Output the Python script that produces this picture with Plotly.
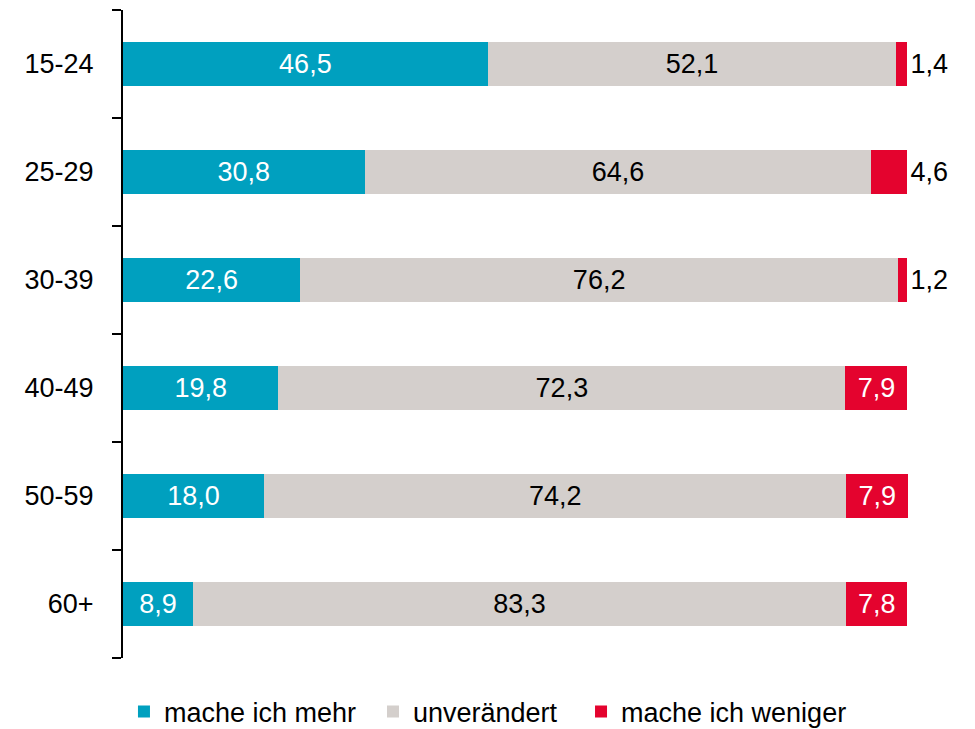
import plotly.graph_objects as go

categories = ["15-24", "25-29", "30-39", "40-49", "50-59", "60+"]
mehr = [46.5, 30.8, 22.6, 19.8, 18.0, 8.9]
unveraendert = [52.1, 64.6, 76.2, 72.3, 74.2, 83.3]
weniger = [1.4, 4.6, 1.2, 7.9, 7.9, 7.8]
series_names = ["mache ich mehr", "unverändert", "mache ich weniger"]
colors = ["#00A0BF", "#D4CFCC", "#E4032E"]

FONT = "Liberation Sans Narrow, Arial Narrow, Liberation Sans, sans-serif"
FS = 27

def fmt(v):
    return f"{v:.1f}".replace(".", ",")

fig = go.Figure()
fig.add_trace(go.Bar(
    y=categories, x=mehr, orientation="h", name=series_names[0], legend="legend",
    marker=dict(color=colors[0], line=dict(width=0)),
    text=[fmt(v) for v in mehr], textposition="inside", insidetextanchor="middle",
    insidetextfont=dict(color="white", size=FS, family=FONT),
    constraintext="none", hoverinfo="skip", cliponaxis=False,
))
fig.add_trace(go.Bar(
    y=categories, x=unveraendert, orientation="h", name=series_names[1], legend="legend2",
    marker=dict(color=colors[1], line=dict(width=0)),
    text=[fmt(v) for v in unveraendert], textposition="inside", insidetextanchor="middle",
    insidetextfont=dict(color="black", size=FS, family=FONT),
    constraintext="none", hoverinfo="skip", cliponaxis=False,
))
fig.add_trace(go.Bar(
    y=categories, x=weniger, orientation="h", name=series_names[2], legend="legend3",
    marker=dict(color=colors[2], line=dict(width=0)),
    text=[fmt(v) for v in weniger],
    textposition=["outside" if v < 5 else "inside" for v in weniger],
    insidetextanchor="middle",
    insidetextfont=dict(color="white", size=FS, family=FONT),
    outsidetextfont=dict(color="black", size=FS, family=FONT),
    constraintext="none", cliponaxis=False, hoverinfo="skip",
))

def legend_at(x):
    return dict(orientation="h", xref="container", x=x, xanchor="left",
                yref="container", y=0.0236, yanchor="middle",
                font=dict(size=FS, family=FONT), itemwidth=30,
                bgcolor="rgba(0,0,0,0)")

fig.update_layout(
    width=960, height=721,
    barmode="stack", bargap=0.6,
    paper_bgcolor="white", plot_bgcolor="white",
    margin=dict(l=115, r=59, t=2, b=71, autoexpand=False),
    font=dict(family=FONT, size=FS, color="black"),
    showlegend=True,
    legend=legend_at(0.1208),
    legend2=legend_at(0.3802),
    legend3=legend_at(0.5969),
    xaxis=dict(range=[0, 100.2], visible=False, fixedrange=True, automargin=False),
    yaxis=dict(
        categoryorder="array", categoryarray=categories[::-1], automargin=False,
        range=[-0.5, 5.5], showline=True, linecolor="black", linewidth=2,
        ticks="outside", tickson="boundaries", ticklen=9, tickwidth=2, tickcolor="black",
        ticklabelstandoff=22, showgrid=False, zeroline=False,
        tickfont=dict(size=FS, family=FONT),
    ),
)

fig.write_html("out.html")
